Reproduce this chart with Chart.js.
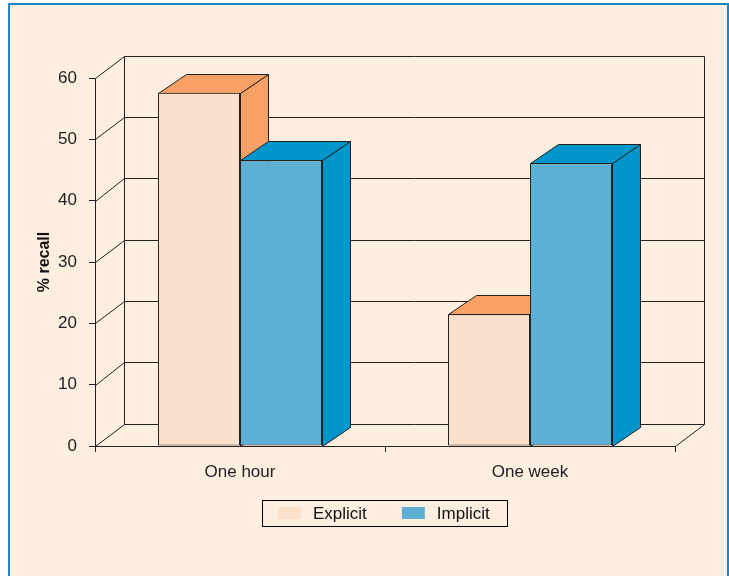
<!DOCTYPE html>
<html>
<head>
<meta charset="utf-8">
<script src="https://cdn.jsdelivr.net/npm/chart.js@4/dist/chart.umd.min.js"></script>
<style>
  html, body { margin: 0; padding: 0; background: #ffffff; }
  canvas { display: block; }
</style>
</head>
<body>
<canvas id="chart" width="729" height="576"></canvas>
<script>
// Recall data
const categories = ['One hour', 'One week'];
const seriesNames = ['Explicit', 'Implicit'];
const explicitRecall = [57.6, 21.5];
const implicitRecall = [46.6, 46.1];
const yTicks = [0, 10, 20, 30, 40, 50, 60];

// Look
const FONT = '"Liberation Sans", Arial, Helvetica, sans-serif';
const INK = '#222222';
const PANEL = '#FEEEE0';
const FRAME = '#1C84C6';
const FRONT = ['#FBE0CB', '#5DAFD3'];
const SHADE = ['#F9A066', '#0096CB'];
const WALL = { dx: 28.5, dy: -22.5 };
const BAR = { dx: 28, dy: -19 };

function line(ctx, pts) {
  ctx.beginPath();
  ctx.moveTo(pts[0][0], pts[0][1]);
  for (let i = 1; i < pts.length; i++) ctx.lineTo(pts[i][0], pts[i][1]);
  ctx.stroke();
}
function poly(ctx, pts, fill) {
  ctx.beginPath();
  ctx.moveTo(pts[0][0], pts[0][1]);
  for (let i = 1; i < pts.length; i++) ctx.lineTo(pts[i][0], pts[i][1]);
  ctx.closePath();
  ctx.fillStyle = fill;
  ctx.fill();
  ctx.stroke();
}
const h = v => Math.round(v) + 0.5;

// Panel background and blue frame
const panelPlugin = {
  id: 'panel',
  beforeDraw(chart) {
    const ctx = chart.ctx;
    ctx.save();
    ctx.fillStyle = '#ffffff';
    ctx.fillRect(0, 0, chart.width, chart.height);
    ctx.fillStyle = PANEL;
    ctx.fillRect(9, 4, 719, chart.height);
    ctx.strokeStyle = FRAME;
    ctx.lineWidth = 2;
    ctx.strokeRect(9, 4, 719, chart.height + 20);
    ctx.restore();
  }
};

// Walls, floor and the side/top faces of the bars
const depthPlugin = {
  id: 'depth',
  beforeDatasetsDraw(chart) {
    const ctx = chart.ctx;
    const { left, right, top, bottom } = chart.chartArea;
    const ys = chart.scales.y;
    ctx.save();
    ctx.strokeStyle = INK;
    ctx.lineWidth = 1;
    ctx.lineJoin = 'miter';

    const bl = h(left + WALL.dx), br = h(right + WALL.dx);
    // gridlines on the left wall and the back wall
    yTicks.forEach(v => {
      const y = ys.getPixelForValue(v);
      line(ctx, [[h(left), h(y)], [bl, h(y + WALL.dy)], [br, h(y + WALL.dy)]]);
    });
    // back wall verticals
    line(ctx, [[bl, h(top + WALL.dy)], [bl, h(bottom + WALL.dy)]]);
    line(ctx, [[br, h(top + WALL.dy)], [br, h(bottom + WALL.dy)]]);
    // floor right edge
    line(ctx, [[h(right), h(bottom)], [br, h(bottom + WALL.dy)]]);

    // side and top faces, drawn bar by bar so nearer faces overlap correctly
    const n = chart.data.labels.length;
    for (let i = 0; i < n; i++) {
      chart.data.datasets.forEach((ds, d) => {
        const el = chart.getDatasetMeta(d).data[i];
        const x0 = h(el.x - el.width / 2), x1 = h(el.x + el.width / 2);
        const yt = h(el.y), yb = h(el.base);
        const dx = BAR.dx, dy = BAR.dy;
        poly(ctx, [[x1, yt], [x1 + dx, yt + dy], [x1 + dx, yb + dy], [x1, yb]], SHADE[d]);
        poly(ctx, [[x0, yt], [x0 + dx, yt + dy], [x1 + dx, yt + dy], [x1, yt]], SHADE[d]);
      });
    }
    ctx.restore();
  }
};

// Boxed legend under the axis labels
const legendPlugin = {
  id: 'boxLegend',
  afterDraw(chart) {
    const ctx = chart.ctx;
    ctx.save();
    ctx.font = '17px ' + FONT;
    ctx.textBaseline = 'middle';
    const sw = 23, sh = 12, gapText = 12, gapItem = 35;
    const startX = 278, midY = 513;
    let x = startX;
    const items = chart.data.datasets.map(ds => {
      const it = { x, label: ds.label, color: ds.backgroundColor };
      x += sw + gapText + ctx.measureText(ds.label).width + gapItem;
      return it;
    });
    const endX = x - gapItem;
    ctx.fillStyle = PANEL;
    ctx.fillRect(startX - 16, 500, endX - startX + 33, 26);
    ctx.strokeStyle = '#000';
    ctx.lineWidth = 1;
    ctx.strokeRect(h(startX - 16), 500.5, Math.round(endX - startX + 33), 26);
    items.forEach(it => {
      ctx.fillStyle = it.color;
      ctx.fillRect(it.x, midY - sh / 2, sw, sh);
      ctx.fillStyle = '#111';
      ctx.fillText(it.label, it.x + sw + gapText, midY + 1);
    });
    ctx.restore();
  }
};

new Chart(document.getElementById('chart'), {
  type: 'bar',
  data: {
    labels: categories,
    datasets: [
      { label: seriesNames[0], data: explicitRecall, backgroundColor: FRONT[0] },
      { label: seriesNames[1], data: implicitRecall, backgroundColor: FRONT[1] }
    ]
  },
  options: {
    responsive: false,
    animation: false,
    events: [],
    layout: { padding: { top: 78, right: 54, left: 0, bottom: 0 } },
    datasets: {
      bar: {
        categoryPercentage: 0.5655,
        barPercentage: 1.0,
        borderColor: INK,
        borderWidth: 1,
        borderSkipped: false
      }
    },
    plugins: {
      legend: { display: false },
      tooltip: { enabled: false }
    },
    scales: {
      x: {
        grid: { drawOnChartArea: false, tickLength: 6, color: INK, offset: true },
        border: { color: INK, width: 1 },
        ticks: { font: { family: FONT, size: 17 }, color: INK, padding: 10 },
        afterFit(s) { s.height = 130; }
      },
      y: {
        min: 0,
        max: 60,
        afterBuildTicks(s) { s.ticks = yTicks.map(v => ({ value: v })); },
        grid: { drawOnChartArea: false, tickLength: 6, color: INK },
        border: { color: INK, width: 1 },
        ticks: { font: { family: FONT, size: 17 }, color: INK, padding: 12 },
        title: {
          display: true,
          text: '% recall',
          font: { family: FONT, size: 16, weight: 'bold' },
          color: '#111',
          padding: { top: 35, bottom: 0 }
        },
        afterFit(s) { s.width = 95; }
      }
    }
  },
  plugins: [panelPlugin, depthPlugin, legendPlugin]
});
</script>
</body>
</html>
